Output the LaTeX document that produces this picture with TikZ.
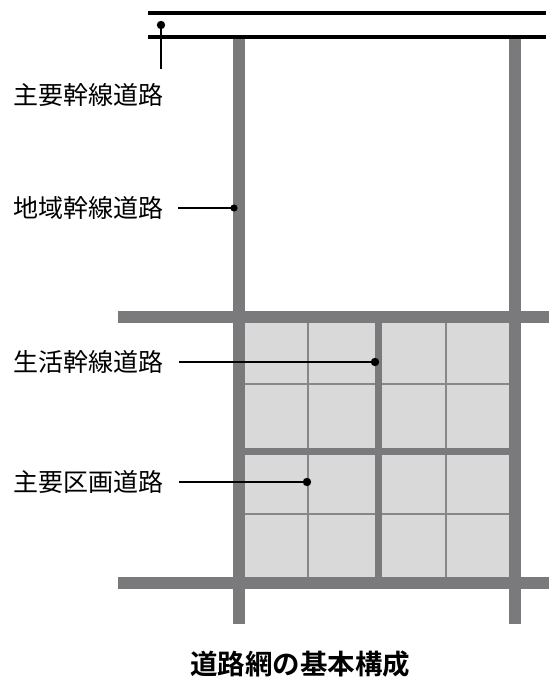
\documentclass[tikz,border=0pt]{standalone}
\usepackage{fontspec}
\setmainfont{Noto Sans CJK JP}
\newfontfamily\capfont{Noto Sans CJK JP Bold}
\tikzset{
  road/.style={draw=roadgray, line width=12pt},
  midroad/.style={draw=roadgray, line width=7pt},
  thinroad/.style={draw=thingray, line width=1.8pt},
  mainroad/.style={draw=black, line width=4pt},
  leader/.style={draw=black, line width=1.6pt},
  dotmark/.style={fill=black},
  lbl/.style={anchor=west, inner sep=0pt, font=\fontsize{25}{25}\selectfont},
}
\definecolor{roadgray}{RGB}{122,122,124}
\definecolor{thingray}{RGB}{135,135,137}
\definecolor{blockfill}{RGB}{217,217,217}
\begin{document}
\begin{tikzpicture}[x=1pt,y=-1pt]
\useasboundingbox (0,0) rectangle (549,677);
% blocks
\fill[blockfill] (239,317) rectangle (515,583);
% thin roads
\draw[thinroad] (308,317) -- (308,583);
\draw[thinroad] (446,317) -- (446,583);
\draw[thinroad] (239,384) -- (515,384);
\draw[thinroad] (239,514) -- (515,514);
% medium roads
\draw[midroad] (378,317) -- (378,583);
\draw[midroad] (239,451) -- (515,451);
% thick roads
\draw[road] (239,37) -- (239,624);
\draw[road] (515,37) -- (515,624);
\draw[road] (118,317) -- (549,317);
\draw[road] (118,583) -- (549,583);
% main trunk roads
\draw[mainroad] (148,13) -- (546,13);
\draw[mainroad] (148,37.5) -- (546,37.5);
% labels
\node[lbl] (l1) at (13,95) {主要幹線道路};
\node[lbl] (l2) at (13,208) {地域幹線道路};
\node[lbl] (l3) at (13,362) {生活幹線道路};
\node[lbl] (l4) at (13,482) {主要区画道路};
\coordinate (d1) at (161,25);
\coordinate (e1) at (161,69);
\coordinate (d2) at (234,208);
\coordinate (d3) at (375,362);
\coordinate (d4) at (307,482);
\draw[leader] (d1) -- (e1);
\draw[leader] ([xshift=15pt]l2.east) -- (d2);
\draw[leader] ([xshift=16pt]l3.east) -- (d3);
\draw[leader] ([xshift=16pt]l4.east) -- (d4);
\fill[dotmark] (d1) circle (4.2pt);
\fill[dotmark] (d2) circle (3.6pt);
\fill[dotmark] (d3) circle (4.2pt);
\fill[dotmark] (d4) circle (4.2pt);
% caption
\node[inner sep=0pt, font=\capfont\fontsize{27.5}{27.5}\selectfont] (cap) at (300,664) {道路網の基本構成};
\end{tikzpicture}
\end{document}
